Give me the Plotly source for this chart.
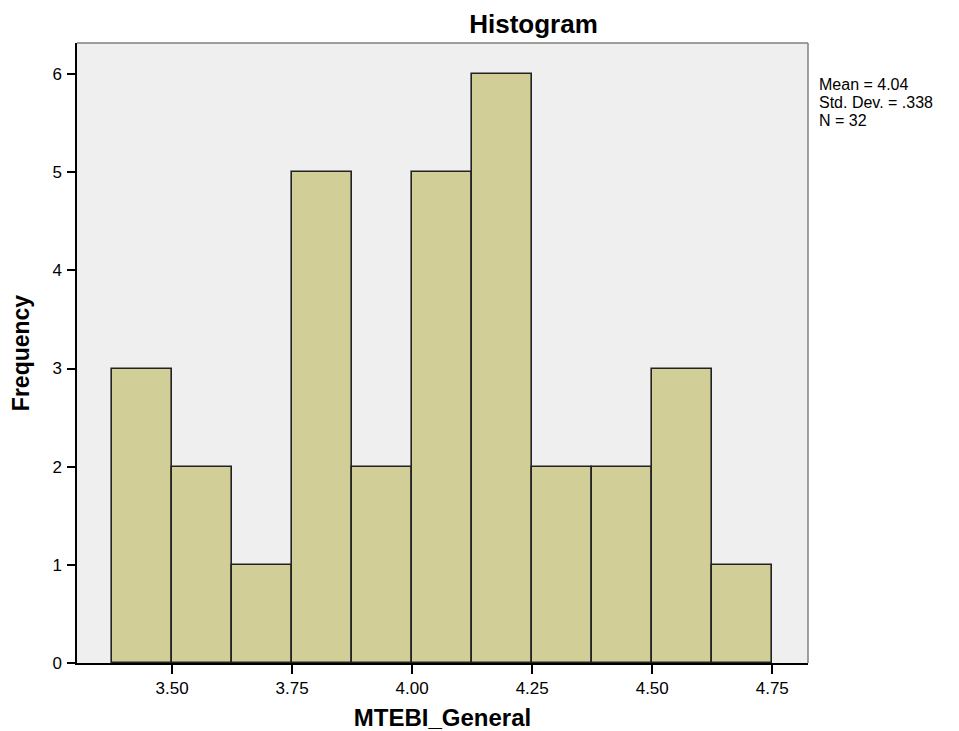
import plotly.graph_objects as go

# Histogram data (SPSS output)
bin_lower_edges = [3.375, 3.500, 3.625, 3.750, 3.875, 4.000, 4.125, 4.250, 4.375, 4.500, 4.625]
bin_width = 0.125
frequencies = [3, 2, 1, 5, 2, 5, 6, 2, 2, 3, 1]
x_tick_values = [3.50, 3.75, 4.00, 4.25, 4.50, 4.75]
x_tick_labels = ["3.50", "3.75", "4.00", "4.25", "4.50", "4.75"]
y_tick_values = [0, 1, 2, 3, 4, 5, 6]
stats_lines = ["Mean = 4.04", "Std. Dev. = .338", "N = 32"]

FONT = "Liberation Sans, Arial, sans-serif"
# The page body has an 8px margin, so the figure is drawn 8px smaller and offset.
W, H = 951, 723

fig = go.Figure()
fig.add_trace(go.Bar(
    x=bin_lower_edges,
    y=frequencies,
    width=[bin_width] * len(frequencies),
    offset=0,
    marker=dict(color="#D2CE98", line=dict(color="#222222", width=1.6)),
    showlegend=False,
))

annotations = []
for i, line in enumerate(stats_lines):
    annotations.append(dict(
        text=line, xref="paper", yref="paper",
        x=1, xshift=9, y=1, yshift=-41 - 18 * i, xanchor="left", yanchor="middle",
        align="left", showarrow=False, font=dict(size=16, family=FONT, color="black"),
    ))

fig.update_layout(
    width=W, height=H,
    margin=dict(l=69, r=151, t=35, b=68, autoexpand=False),
    paper_bgcolor="white",
    plot_bgcolor="#EFEFEF",
    bargap=0,
    font=dict(family=FONT, color="black"),
    title=dict(text="<b>Histogram</b>", x=525.5/W, xanchor="center",
               xref="container", y=1-16/H, yanchor="middle", yref="container",
               font=dict(size=26, family=FONT, color="black")),
    xaxis=dict(range=[3.302, 4.8244], tickmode="array", tickvals=x_tick_values,
               ticktext=x_tick_labels, ticks="outside", ticklen=9, tickwidth=1.5,
               tickcolor="black", showline=True, linecolor="black", linewidth=1.5,
               showgrid=False, zeroline=False, tickfont=dict(size=17),
               automargin=False,
               title=dict(text="<b>MTEBI_General</b>", font=dict(size=24), standoff=20)),
    yaxis=dict(range=[0, 6.316], tickmode="array", tickvals=y_tick_values,
               ticks="outside", ticklen=8, tickwidth=1.5, tickcolor="black",
               showline=True, linecolor="black", linewidth=1.5,
               showgrid=False, zeroline=False, tickfont=dict(size=17),
               ticklabelstandoff=2, automargin=False,
               title=dict(text="<b>Frequency</b>", font=dict(size=23), standoff=16)),
    shapes=[
        dict(type="line", xref="paper", yref="paper", x0=0, x1=1, y0=1, y1=1,
             line=dict(color="#808080", width=1.5)),
        dict(type="line", xref="paper", yref="paper", x0=1, x1=1, y0=0, y1=1,
             line=dict(color="#808080", width=1.5)),
    ],
    annotations=annotations,
)

fig.write_html("out.html")
